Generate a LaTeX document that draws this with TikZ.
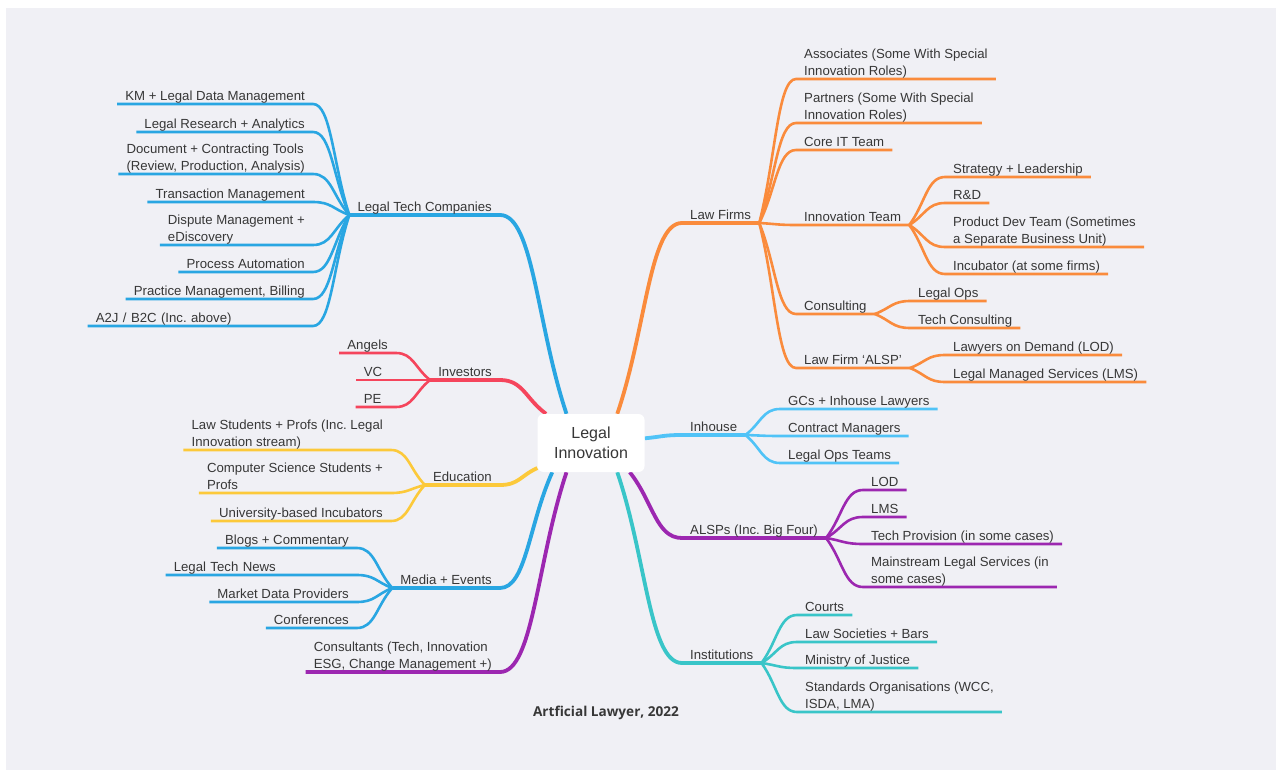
\documentclass[tikz,border=0pt]{standalone}
\usepackage{fontspec}
\setmainfont{Liberation Sans}
\newfontfamily\creditfont{Open Sans}
\usepackage{tikz}
\usetikzlibrary{calc, backgrounds}
\frenchspacing
\definecolor{paper}{RGB}{240, 240, 245}
\definecolor{ink}{RGB}{55, 55, 55}
\definecolor{techblue}{RGB}{41, 166, 226}
\definecolor{firmorange}{RGB}{250, 139, 60}
\definecolor{investred}{RGB}{245, 69, 92}
\definecolor{eduyellow}{RGB}{252, 201, 58}
\definecolor{houseblue}{RGB}{80, 195, 247}
\definecolor{alsppurple}{RGB}{156, 39, 176}
\definecolor{insteal}{RGB}{57, 197, 200}

\tikzset{
  topic/.style={inner xsep=8pt, inner ysep=1pt, text depth=0.25em, align=left,
    text=ink, font=\fontsize{13.2}{16.5}\selectfont},
  hub/.style={fill=white, rounded corners=6pt, minimum width=107pt, minimum height=58pt,
    align=center, text=ink, font=\fontsize{16}{20}\selectfont},
  limb/.style={to path={.. controls ($(\tikztostart)!0.45!(\tikztotarget)$)
    and ($(\tikztotarget)!0.5!(\tikztostart |- \tikztotarget)$) .. (\tikztotarget) \tikztonodes}},
  twig/.style={line width=2.6pt},
  trunk/.style={line width=3.8pt}
}

\begin{document}
\begin{tikzpicture}[x=1pt, y=-1pt, line cap=round]
  \useasboundingbox (0, 0) rectangle (1280, 773);
  \begin{scope}[on background layer]
    \fill [white] (0, 0) rectangle (1280, 773);
    \fill [paper] (6, 8) rectangle (1276, 770);
  \end{scope}

  \node[hub] (hub) at (591, 443) {Legal\\Innovation};

  % left: legal tech companies
  \node[topic, anchor=south east] (ltc) at (500, 215) {Legal Tech Companies};
  \node[topic, anchor=south east] (km) at (313, 104) {KM + Legal Data Management};
  \node[topic, anchor=south east] (research) at (313, 132) {Legal Research + Analytics};
  \node[topic, anchor=south east] (doctools) at (313, 174) {Document + Contracting Tools\\(Review, Production, Analysis)};
  \node[topic, anchor=south east] (transact) at (313, 202) {Transaction Management};
  \node[topic, anchor=south east] (dispute) at (313, 245) {Dispute Management +\\eDiscovery};
  \node[topic, anchor=south east] (process) at (313, 272) {Process Automation};
  \node[topic, anchor=south east] (practice) at (313, 299) {Practice Management, Billing};
  \node[topic, anchor=south east, text width=209pt] (a2j) at (313, 326) {A2J / B2C (Inc. above)};

  % left: investors
  \node[topic, anchor=south east] (invest) at (500, 380) {Investors};
  \node[topic, anchor=south east] (angels) at (396, 353) {Angels};
  \node[topic, anchor=south east, text width=24pt] (vc) at (396, 380) {VC};
  \node[topic, anchor=south east, text width=24pt] (pe) at (396, 407) {PE};

  % left: education
  \node[topic, anchor=south east] (edu) at (500, 485) {Education};
  \node[topic, anchor=south east] (lawstud) at (391, 450) {Law Students + Profs (Inc. Legal\\Innovation stream)};
  \node[topic, anchor=south east] (csstud) at (391, 493) {Computer Science Students +\\Profs};
  \node[topic, anchor=south east] (unibased) at (391, 521) {University-based Incubators};

  % left: media
  \node[topic, anchor=south east] (media) at (500, 588) {Media + Events};
  \node[topic, anchor=south east] (blogs) at (357, 548) {Blogs + Commentary};
  \node[topic, anchor=south east, text width=175pt] (ltnews) at (357, 575) {Legal Tech News};
  \node[topic, anchor=south east] (mdata) at (357, 602) {Market Data Providers};
  \node[topic, anchor=south east] (confs) at (357, 628) {Conferences};

  \node[topic, anchor=south east] (consultants) at (500, 672) {Consultants (Tech, Innovation\\ESG, Change Management +)};

  % right: law firms
  \node[topic, anchor=south west] (firms) at (682, 223) {Law Firms};
  \node[topic, anchor=south west] (assoc) at (796, 79) {Associates (Some With Special\\Innovation Roles)};
  \node[topic, anchor=south west] (partners) at (796, 123) {Partners (Some With Special\\Innovation Roles)};
  \node[topic, anchor=south west] (coreit) at (796, 150) {Core IT Team};
  \node[topic, anchor=south west] (innoteam) at (796, 225) {Innovation Team};
  \node[topic, anchor=south west] (strategy) at (945, 177) {Strategy + Leadership};
  \node[topic, anchor=south west] (rnd) at (945, 203) {R\&D};
  \node[topic, anchor=south west] (proddev) at (945, 247) {Product Dev Team (Sometimes\\a Separate Business Unit)};
  \node[topic, anchor=south west] (incub) at (945, 274) {Incubator (at some firms)};
  \node[topic, anchor=south west] (consulting) at (796, 314) {Consulting};
  \node[topic, anchor=south west] (legalops) at (910, 301) {Legal Ops};
  \node[topic, anchor=south west] (techcons) at (910, 328) {Tech Consulting};
  \node[topic, anchor=south west] (firmalsp) at (796, 368) {Law Firm ‘ALSP’};
  \node[topic, anchor=south west] (ondemand) at (945, 355) {Lawyers on Demand (LOD)};
  \node[topic, anchor=south west] (managed) at (945, 382) {Legal Managed Services (LMS)};

  % right: inhouse
  \node[topic, anchor=south west] (inhouse) at (682, 435) {Inhouse};
  \node[topic, anchor=south west] (gcs) at (780, 409) {GCs + Inhouse Lawyers};
  \node[topic, anchor=south west] (contracts) at (780, 436) {Contract Managers};
  \node[topic, anchor=south west] (opsteams) at (780, 463) {Legal Ops Teams};

  % right: alsps
  \node[topic, anchor=south west] (alsps) at (682, 538) {ALSPs (Inc. Big Four)};
  \node[topic, anchor=south west] (lod) at (863, 490) {LOD};
  \node[topic, anchor=south west] (lms) at (863, 517) {LMS};
  \node[topic, anchor=south west] (techprov) at (863, 544) {Tech Provision (in some cases)};
  \node[topic, anchor=south west] (mainstream) at (863, 587) {Mainstream Legal Services (in\\some cases)};

  % right: institutions
  \node[topic, anchor=south west] (instit) at (682, 663) {Institutions};
  \node[topic, anchor=south west] (courts) at (797, 615) {Courts};
  \node[topic, anchor=south west] (lawsoc) at (797, 642) {Law Societies + Bars};
  \node[topic, anchor=south west] (ministry) at (797, 668) {Ministry of Justice};
  \node[topic, anchor=south west] (standards) at (797, 712) {Standards Organisations (WCC,\\ISDA, LMA)};

  \node[text=ink, font=\creditfont\bfseries\fontsize{13.6}{16}\selectfont] (credit) at (606, 713) {Artficial Lawyer, 2022};

  \begin{scope}[on background layer]
    % left branches
    \draw[techblue, trunk] (hub.130) to[limb] (ltc.south east) -- (ltc.south west);
    \foreach \k in {km, research, doctools, transact, dispute, process, practice, a2j}
      \draw[techblue, twig] (ltc.south west) to[limb] (\k.south east) -- (\k.south west);

    \draw[investred, trunk] (hub.147) to[limb] (invest.south east) -- (invest.south west);
    \foreach \k in {angels, vc, pe}
      \draw[investred, twig] (invest.south west) to[limb] (\k.south east) -- (\k.south west);

    \draw[eduyellow, trunk] (hub.205) to[limb] (edu.south east) -- (edu.south west);
    \foreach \k in {lawstud, csstud, unibased}
      \draw[eduyellow, twig] (edu.south west) to[limb] (\k.south east) -- (\k.south west);

    \draw[techblue, trunk] (hub.217) to[limb] (media.south east) -- (media.south west);
    \foreach \k in {blogs, ltnews, mdata, confs}
      \draw[techblue, twig] (media.south west) to[limb] (\k.south east) -- (\k.south west);

    \draw[alsppurple, trunk] (hub.230) to[limb] (consultants.south east) -- (consultants.south west);

    % right branches
    \draw[firmorange, trunk] (hub.48) to[limb] (firms.south west) -- (firms.south east);
    \foreach \k in {assoc, partners, coreit, innoteam, consulting, firmalsp}
      \draw[firmorange, twig] (firms.south east) to[limb] (\k.south west) -- (\k.south east);
    \foreach \k in {strategy, rnd, proddev, incub}
      \draw[firmorange, twig] (innoteam.south east) to[limb] (\k.south west) -- (\k.south east);
    \foreach \k in {legalops, techcons}
      \draw[firmorange, twig] (consulting.south east) to[limb] (\k.south west) -- (\k.south east);
    \foreach \k in {ondemand, managed}
      \draw[firmorange, twig] (firmalsp.south east) to[limb] (\k.south west) -- (\k.south east);

    \draw[houseblue, trunk] (hub.5) to[limb] (inhouse.south west) -- (inhouse.south east);
    \foreach \k in {gcs, contracts, opsteams}
      \draw[houseblue, twig] (inhouse.south east) to[limb] (\k.south west) -- (\k.south east);

    \draw[alsppurple, trunk] (hub.323) to[limb] (alsps.south west) -- (alsps.south east);
    \foreach \k in {lod, lms, techprov, mainstream}
      \draw[alsppurple, twig] (alsps.south east) to[limb] (\k.south west) -- (\k.south east);

    \draw[insteal, trunk] (hub.312) to[limb] (instit.south west) -- (instit.south east);
    \foreach \k in {courts, lawsoc, ministry, standards}
      \draw[insteal, twig] (instit.south east) to[limb] (\k.south west) -- (\k.south east);
  \end{scope}
\end{tikzpicture}
\end{document}
